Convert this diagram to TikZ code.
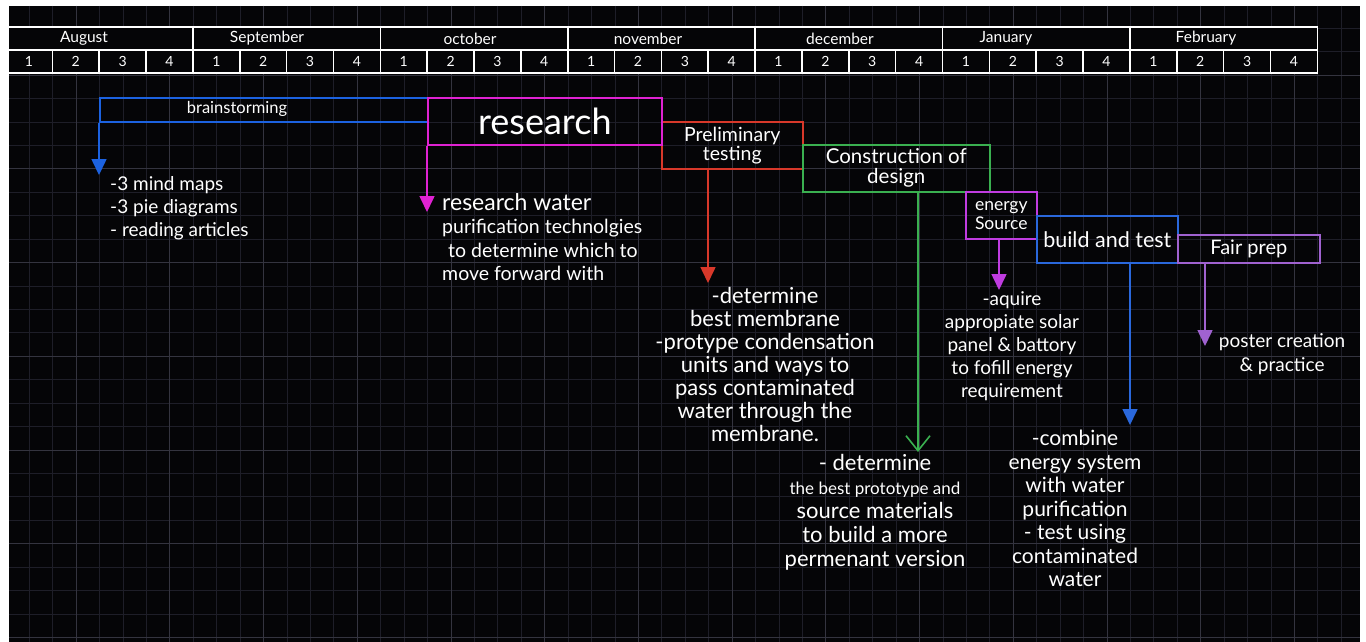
\documentclass[tikz,border=0pt]{standalone}
\usepackage{fontspec}
\setmainfont{Lato}
\usetikzlibrary{arrows.meta,positioning}
\definecolor{board}{HTML}{050507}
\definecolor{gridminor}{HTML}{1E1E28}
\definecolor{gridmajor}{HTML}{34343F}
\definecolor{brainblue}{HTML}{1C62E0}
\definecolor{researchpink}{HTML}{E022D2}
\definecolor{prelimred}{HTML}{D8382A}
\definecolor{buildgreen}{HTML}{3AB050}
\definecolor{energyviolet}{HTML}{C03CE0}
\definecolor{testblue}{HTML}{2A68DC}
\definecolor{fairviolet}{HTML}{A062D0}
\tikzset{
  tableline/.style={draw=white, line width=1.6pt},
  monthlabel/.style={font=\fontsize{15.5}{16}\selectfont, inner sep=0pt},
  weeklabel/.style={font=\fontsize{14}{16}\selectfont, inner sep=0pt},
  taskbox/.style={draw=#1, line width=1.6pt, inner sep=0pt, anchor=north west, align=center},
  taskarrow/.style={draw=#1, line width=1.6pt, -{Triangle[width=15pt,length=16pt]}},
  notes/.style 2 args={inner sep=0pt, align=center, font=\fontsize{#1}{#2}\selectfont},
}
\begin{document}
\begin{tikzpicture}[x=1pt, y=-1pt, every node/.style={text=white}]
    \useasboundingbox (0,0) rectangle (1366,642);
    \fill[white] (0,0) rectangle (1366,642);
    \fill[board] (9,6) rectangle (1360,642);
    \begin{scope}
        \clip (9,6) rectangle (1360,642);
        \foreach \i in {1,...,57}
        \draw[gridminor, line width=1pt] (5.9+23.43*\i,6) -- (5.9+23.43*\i,642);
        \foreach \j in {1,...,27}
        \draw[gridminor, line width=1pt] (9,4.9+23.43*\j) -- (1360,4.9+23.43*\j);
        \foreach \i in {3,7,...,55}
        \draw[gridmajor, line width=1pt] (5.9+23.43*\i,6) -- (5.9+23.43*\i,642);
        \foreach \j in {3,7,...,27}
        \draw[gridmajor, line width=1pt] (9,4.9+23.43*\j) -- (1360,4.9+23.43*\j);
        \fill[board] (5.5,27) rectangle (1317.3,73);
        \draw[tableline] (5.5,27) rectangle (1317.3,73);
        \draw[tableline] (5.5,50) -- (1317.3,50);
        \foreach \m in {1,...,6}
        \draw[tableline] (5.5+187.4*\m,27) -- (5.5+187.4*\m,73);
        \foreach \w in {1,...,27}
        \draw[tableline] (5.5+46.85*\w,50) -- (5.5+46.85*\w,73);
    \end{scope}
    \foreach \name/\xpos [count=\m] in {August/84, September/267, october/470,
        november/648, december/840, January/1006, February/1206}
    \node[monthlabel] (month\m) at (\xpos,38.5) {\name};
    \foreach \m in {0,...,6}
    \foreach \w in {1,...,4}
    \node[weeklabel] (week\m\w) at (5.5+187.4*\m+46.85*\w-23.4,61.5) {\w};

    \node[taskbox=brainblue, minimum width=328pt, minimum height=24pt] (brain) at (99,97) {};
    \node[font=\fontsize{16.5}{18}\selectfont] (brainlabel) at (237,109) {brainstorming};
    \node[taskbox=prelimred, minimum width=141pt, minimum height=47pt,
        font=\fontsize{19.5}{19}\selectfont] (prelim) at (661,121) {Preliminary\\testing};
    \node[taskbox=researchpink, minimum width=234pt, minimum height=47pt,
        font=\fontsize{36}{38}\selectfont] (research) at (427,97) {research};
    \node[taskbox=buildgreen, minimum width=187pt, minimum height=47pt,
        font=\fontsize{20.5}{20}\selectfont] (construct) at (802,144) {Construction of\\design};
    \node[taskbox=energyviolet, minimum width=71pt, minimum height=47pt,
        font=\fontsize{17.5}{19}\selectfont] (energy) at (965,191) {energy\\Source};
    \node[taskbox=testblue, minimum width=141pt, minimum height=47pt,
        font=\fontsize{21.5}{23}\selectfont] (build) at (1036,215) {build and test};
    \node[taskbox=fairviolet, minimum width=142pt, minimum height=28pt,
        font=\fontsize{20}{21}\selectfont] (fair) at (1177,234) {Fair prep};

    \coordinate (braintip) at (99,175);
    \coordinate (researchtip) at (427,212);
    \coordinate (prelimtip) at (708,283);
    \coordinate (constructtip) at (918,452);
    \coordinate (energytip) at (999,290);
    \coordinate (buildtip) at (1130,425);
    \coordinate (fairtip) at (1205,346);
    \draw[taskarrow=brainblue] (brain.south west) -- (braintip);
    \draw[taskarrow=researchpink] (research.south west) -- (researchtip);
    \draw[taskarrow=prelimred] (prelimtip |- prelim.south) -- (prelimtip);
    \draw[buildgreen, line width=1.6pt, -{Straight Barb[width=24pt,length=15pt]}]
        (constructtip |- construct.south) -- (constructtip);
    \draw[taskarrow=energyviolet] (energytip |- energy.south) -- (energytip);
    \draw[taskarrow=testblue] (buildtip |- build.south) -- (buildtip);
    \draw[taskarrow=fairviolet] (fairtip |- fair.south) -- (fairtip);

    \node[notes={19}{23}, anchor=north west, align=left] (brainnotes) at (110,176)
        {-3 mind maps\\-3 pie diagrams\\- reading articles};
    \node[notes={19.5}{23.5}, anchor=north west, align=left] (researchnotes) at (442,193)
        {{\fontsize{23}{25}\selectfont research water}\\purification technolgies\\
        \hspace{6pt}to determine which to\\move forward with};
    \node[notes={22}{23}, anchor=north] (prelimnotes) at (765,287)
        {-determine\\best membrane\\-protype condensation\\units and ways to\\
        pass contaminated\\water through the\\membrane.};
    \node[notes={22}{24}, anchor=north] (constructnotes) at (875,454)
        {- determine\\{\fontsize{17}{18}\selectfont the best prototype and}\\source materials\\
        to build a more\\permenant version};
    \node[notes={19}{23}, anchor=north] (energynotes) at (1012,291)
        {-aquire\\appropiate solar\\panel \& battory\\to fofill energy\\requirement};
    \node[notes={21}{23.5}, anchor=north] (buildnotes) at (1075,430)
        {-combine\\energy system\\with water\\purification\\- test using\\
        contaminated\\water};
    \node[notes={19}{24}, anchor=north] (fairnotes) at (1282,333)
        {poster creation\\\& practice};
\end{tikzpicture}
\end{document}
